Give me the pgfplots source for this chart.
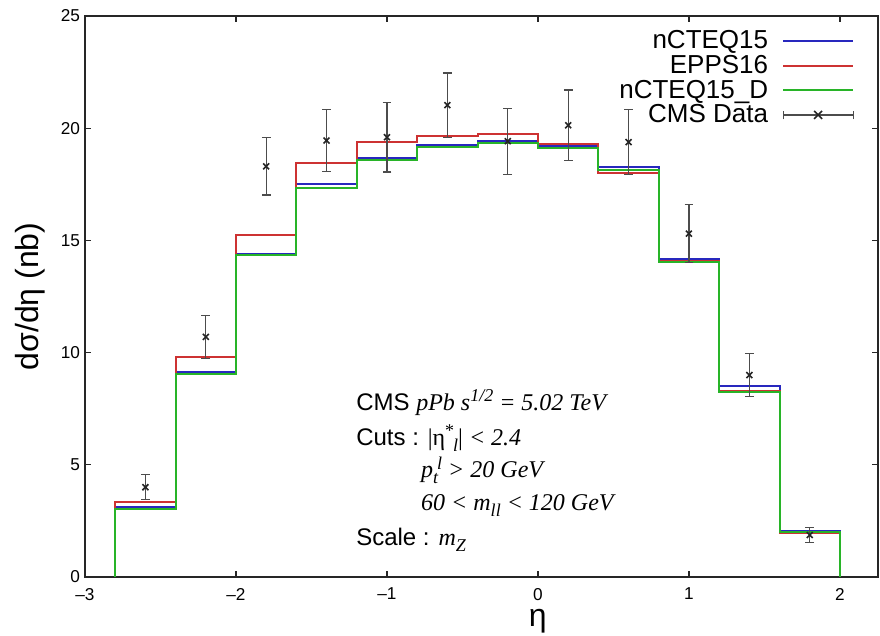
\documentclass[border=0pt]{standalone}
\usepackage{pgfplots}
\pgfplotsset{compat=1.18}
\usepackage{fontspec}
\setmainfont{Liberation Sans}
\newfontfamily\ser{Liberation Serif}
\definecolor{cblue}{RGB}{40,40,190}
\definecolor{cred}{RGB}{205,50,50}
\definecolor{cgreen}{RGB}{40,180,40}

\newcommand{\lowsub}[1]{\raisebox{-0.55ex}{\fontsize{9}{9}\selectfont #1}}
\newcommand{\highsup}[1]{\raisebox{0.8ex}{\fontsize{9}{9}\selectfont #1}}

\begin{document}
\begin{tikzpicture}
\begin{axis}[
  scale only axis, width=396.5pt, height=280.5pt,
  xmin=-3, xmax=2.252, ymin=0, ymax=25,
  xtick={-3,...,2}, xticklabels={–3,–2,–1,0,1,2},
  ytick={0,5,...,25},
  tick align=inside, major tick length=3pt,
  axis line style={line width=0.9pt, black!85},
  tick style={black!85, line width=0.6pt},
  tick label style={font=\fontsize{8.6}{9}\selectfont},
  /pgf/number format/assume math mode=true,
  xticklabel style={yshift=-2pt},
  yticklabel style={xshift=1pt},
  xlabel={η}, ylabel={dσ/dη (nb)},
  label style={font=\fontsize{16}{18}\selectfont},
  xlabel style={at={(rel axis cs:0.571,-0.078)}, anchor=center},
  ylabel style={at={(rel axis cs:-0.0694,0.5)}, anchor=center},
  legend cell align=right, legend plot pos=right,
  legend image code/.code={\draw[#1] (0pt,0pt) -- (35pt,0pt);},
  legend style={at={(0.978,0.985)}, anchor=north east, draw=none, fill=none,
    font=\fontsize{13}{14}\selectfont, column sep=7pt,
    nodes={inner sep=0pt, text height=10pt, text depth=2.3pt}},
]
\addplot[const plot, cblue, line width=1pt] coordinates {
(-2.8,0) (-2.8,3.1) (-2.4,9.15) (-2.0,14.4) (-1.6,17.5) (-1.2,18.65) (-0.8,19.25)
(-0.4,19.42) (0.0,19.2) (0.4,18.25) (0.8,14.15) (1.2,8.52) (1.6,2.05) (2.0,2.05) (2.0,0)
};
\addlegendentry{nCTEQ15}
\addplot[const plot, cred, line width=1pt] coordinates {
(-2.8,0) (-2.8,3.35) (-2.4,9.82) (-2.0,15.25) (-1.6,18.45) (-1.2,19.37) (-0.8,19.64)
(-0.4,19.73) (0.0,19.3) (0.4,18.0) (0.8,14.1) (1.2,8.28) (1.6,1.95) (2.0,1.95) (2.0,0)
};
\addlegendentry{EPPS16}
\addplot[const plot, cgreen, line width=1pt] coordinates {
(-2.8,0) (-2.8,3.05) (-2.4,9.05) (-2.0,14.33) (-1.6,17.35) (-1.2,18.57) (-0.8,19.15)
(-0.4,19.36) (0.0,19.12) (0.4,18.15) (0.8,14.05) (1.2,8.25) (1.6,2.0) (2.0,2.0) (2.0,0)
};
\addlegendentry{nCTEQ15\_D}
\addplot[only marks, mark=x, mark size=2.1pt, black!85, mark options={line width=0.8pt},
  legend image code/.code={
    \draw[black!70, line width=0.6pt] (0pt,0pt) -- (35pt,0pt);
    \draw[black!70, line width=0.6pt] (0pt,-2.2pt) -- (0pt,2.2pt);
    \draw[black!70, line width=0.6pt] (35pt,-2.2pt) -- (35pt,2.2pt);
    \draw[black!85, line width=0.8pt] (15.5pt,-2pt) -- (19.5pt,2pt) (15.5pt,2pt) -- (19.5pt,-2pt);},
  error bars/.cd, y dir=both, y explicit,
  error bar style={black!70, line width=0.6pt},
  error mark options={rotate=90, mark size=2.2pt, black!70, line width=0.6pt}]
coordinates {
(-2.6,4.0) +- (0,0.55)
(-2.2,10.7) +- (0,0.95)
(-1.8,18.3) +- (0,1.28)
(-1.4,19.45) +- (0,1.37)
(-1.0,19.6) +- (0,1.55)
(-0.6,21.03) +- (0,1.43)
(-0.2,19.42) +- (0,1.47)
(0.2,20.13) +- (0,1.57)
(0.6,19.38) +- (0,1.45)
(1.0,15.3) +- (0,1.3)
(1.4,9.0) +- (0,0.95)
(1.8,1.87) +- (0,0.35)
};
\addlegendentry{CMS Data}
\node[anchor=west, font=\fontsize{12}{14}\selectfont] at (axis cs:-1.25,7.77)
  {CMS {\ser\itshape pPb s\highsup{1/2} = 5.02 TeV}};
\node[anchor=west, font=\fontsize{12}{14}\selectfont] at (axis cs:-1.25,6.2)
  {Cuts : {\ser |η\highsup{*}\kern-0.5pt\lowsub{\itshape l}| \itshape < 2.4}};
\node[anchor=west, font=\fontsize{12}{14}\selectfont] at (axis cs:-0.82,4.75)
  {{\ser\itshape p\lowsub{t}\kern-0.5pt\highsup{l} > 20 GeV}};
\node[anchor=west, font=\fontsize{12}{14}\selectfont] at (axis cs:-0.82,3.2)
  {{\ser\itshape 60 < m\lowsub{ll} < 120 GeV}};
\node[anchor=west, font=\fontsize{12}{14}\selectfont] at (axis cs:-1.25,1.65)
  {Scale : {\ser\itshape m\lowsub{Z}}};
\end{axis}
\pgfresetboundingbox
\path (-42.5pt,-29.5pt) rectangle (397.5pt,288.5pt);
\end{tikzpicture}
\end{document}
